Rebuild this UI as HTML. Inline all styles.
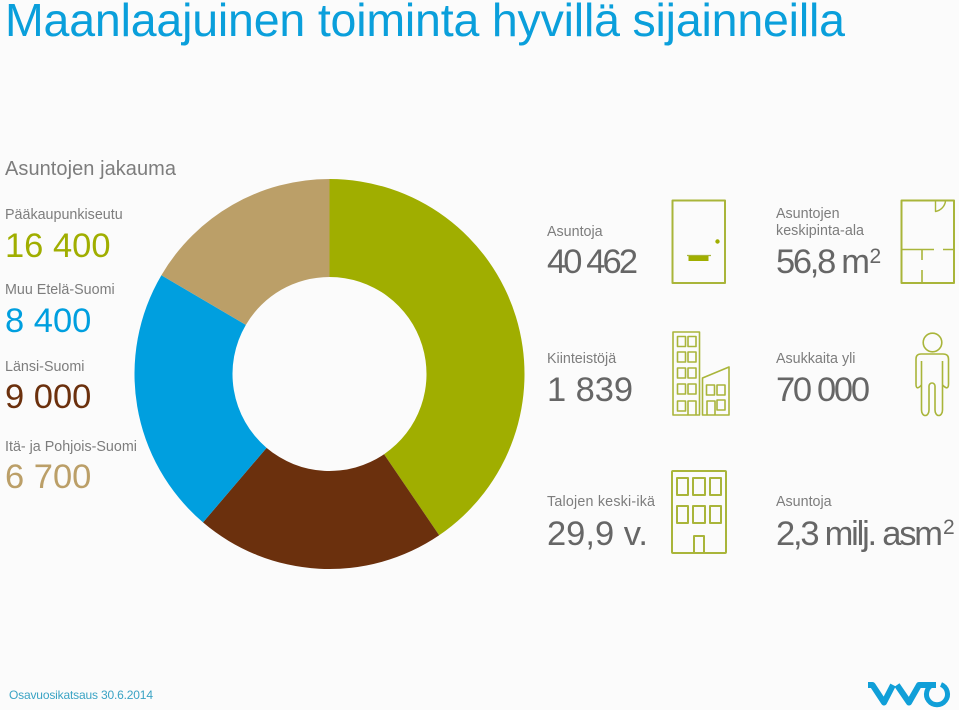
<!DOCTYPE html>
<html lang="fi">
<head>
<meta charset="utf-8">
<title>Maanlaajuinen toiminta hyvillä sijainneilla</title>
<style>
html,body{margin:0;padding:0;background:#fbfbfb;}
svg{display:block;font-family:"Liberation Sans",sans-serif;}
.lab{fill:#7d7d7d;font-size:14.3px;}
.big{fill:#666;font-size:34.5px;}
.ic{fill:none;stroke:#a9b53a;stroke-width:2;stroke-linejoin:round;}
.ic2{fill:none;stroke:#a9b53a;stroke-width:1.6;stroke-linejoin:round;}
</style>
</head>
<body>
<svg id="chart" width="959" height="710" viewBox="0 0 959 710" xmlns="http://www.w3.org/2000/svg">
<rect width="959" height="710" fill="#fbfbfb"/>
<text x="5" y="36" font-size="46.5" fill="#0a9fdb" textLength="840" lengthAdjust="spacing">Maanlaajuinen toiminta hyvillä sijainneilla</text>
<text x="5" y="175" font-size="20" fill="#7d7d7d" textLength="171" lengthAdjust="spacing">Asuntojen jakauma</text>

<g id="donut"></g>
<g id="legend"></g>

<g>
<text class="lab" x="547" y="236">Asuntoja</text>
<text class="big" x="547" y="273" textLength="91" lengthAdjust="spacing">40 462</text>
</g>
<g>
<text class="lab" x="547" y="363">Kiinteistöjä</text>
<text class="big" x="547" y="401" textLength="86" lengthAdjust="spacing">1 839</text>
</g>
<g>
<text class="lab" x="547" y="506" textLength="108" lengthAdjust="spacing">Talojen keski-ikä</text>
<text class="big" x="547" y="545" textLength="101" lengthAdjust="spacing">29,9 v.</text>
</g>
<g>
<text class="lab" x="776" y="218">Asuntojen</text>
<text class="lab" x="776" y="235" textLength="88" lengthAdjust="spacing">keskipinta-ala</text>
<text class="big" x="776" y="273" textLength="94" lengthAdjust="spacing">56,8 m</text>
<text class="big" x="869.5" y="263" style="font-size:21px">2</text>
</g>
<g>
<text class="lab" x="776" y="363">Asukkaita yli</text>
<text class="big" x="776" y="401" textLength="94" lengthAdjust="spacing">70 000</text>
</g>
<g>
<text class="lab" x="776" y="506">Asuntoja</text>
<text class="big" x="776" y="545" textLength="167" lengthAdjust="spacing">2,3 milj. asm</text>
<text class="big" x="943" y="534" style="font-size:21px">2</text>
</g>

<g class="ic">
<rect x="672.5" y="200.5" width="52.5" height="82.5"/>
<circle cx="717.5" cy="241.5" r="1.2" fill="#a0ae00" stroke="#a0ae00"/>
<path d="M687 255.5H711" stroke-width="1.2"/>
<rect x="688.5" y="256" width="20" height="5" fill="#a0ae00" stroke="none"/>
</g>
<g class="ic">
<rect x="901.5" y="200.5" width="52.5" height="82.5"/>
<path d="M935.5 201V211.5C941 210.5 945 206 945.5 201" stroke-width="1.4"/>
<path d="M901.5 249.5H934M943 249.5H954M922 249.5V260M922 270V283" stroke-width="1.6"/>
</g>
<g class="ic2">
<rect x="673" y="332" width="26.5" height="83"/>
<rect x="677.5" y="336.5" width="8" height="10"/><rect x="688" y="336.5" width="8" height="10"/>
<rect x="677.5" y="352" width="8" height="10"/><rect x="688" y="352" width="8" height="10"/>
<rect x="677.5" y="368" width="8" height="10"/><rect x="688" y="368" width="8" height="10"/>
<rect x="677.5" y="384" width="8" height="10"/><rect x="688" y="384" width="8" height="10"/>
<rect x="677.5" y="401" width="8" height="10"/>
<path d="M688 415V401H696V415"/>
<path d="M702.5 415V378L729 367V415Z"/>
<rect x="706.5" y="385" width="8" height="10"/><rect x="717" y="385" width="8" height="10"/>
<path d="M707 415V401H715V415"/>
<rect x="717" y="400" width="8" height="10"/>
</g>
<g class="ic2">
<circle cx="932.5" cy="342.5" r="9.3"/>
<path d="M942.5 361V410A3.75 5.5 0 0 1 935 410V386A3 3 0 0 0 929 386V410A3.75 5.5 0 0 1 921.5 410V361"/>
<path d="M921.5 385Q916 391 916 384V359Q916 354 921 354H943Q948.5 354 948.5 359V384Q948.5 391 942.5 385"/>
</g>
<g class="ic">
<rect x="672" y="471" width="54" height="82" rx="1"/>
<rect x="677" y="478" width="11" height="17"/><rect x="693" y="478" width="12" height="17"/><rect x="710" y="478" width="11" height="17"/>
<rect x="677" y="506" width="11" height="17"/><rect x="693" y="506" width="12" height="17"/><rect x="710" y="506" width="11" height="17"/>
<path d="M694 553V536H704V553"/>
</g>

<text x="9" y="699" font-size="12" fill="#3aa3c4" textLength="144" lengthAdjust="spacing">Osavuosikatsaus 30.6.2014</text>

<g fill="none" stroke="#109fd8" stroke-width="6" stroke-linejoin="round">
<path d="M868 685H872.5L884 702.5L893 685"/>
<path d="M897 685L909 702.5L919 685H936"/>
<path d="M941 684.5A10.5 10.5 0 1 1 933 684.5" stroke-width="5"/>
</g>
</svg>
<script>
const categories = ['Pääkaupunkiseutu', 'Muu Etelä-Suomi', 'Länsi-Suomi', 'Itä- ja Pohjois-Suomi'];
const seriesValues = [16400, 8400, 9000, 6700];
const valueLabels = ['16 400', '8 400', '9 000', '6 700'];
const sliceColors = ['#a0ae00', '#6b300d', '#009fdf', '#bb9f68'];
const legendColors = ['#a0ae00', '#009fdf', '#6b300d', '#bb9f68'];

const NS = 'http://www.w3.org/2000/svg';
const cx = 329.5, cy = 374, rOuter = 195, rInner = 97;
const labelY = [219, 294, 371, 451];
const valueY = [257, 332, 408, 488];
const total = seriesValues.reduce(function (a, b) { return a + b; }, 0);
function angleScale(v) { return v / total * Math.PI * 2; }
function pt(r, a) { return [cx + r * Math.sin(a), cy - r * Math.cos(a)]; }
const donut = document.getElementById('donut');
const legend = document.getElementById('legend');
let acc = 0;
seriesValues.forEach(function (v, i) {
  const a0 = angleScale(acc), a1 = angleScale(acc + v);
  acc += v;
  const large = a1 - a0 > Math.PI ? 1 : 0;
  const p0 = pt(rOuter, a0), p1 = pt(rOuter, a1), p2 = pt(rInner, a1), p3 = pt(rInner, a0);
  const path = document.createElementNS(NS, 'path');
  path.setAttribute('d', 'M' + p0[0] + ' ' + p0[1] + 'A' + rOuter + ' ' + rOuter + ' 0 ' + large + ' 1 ' + p1[0] + ' ' + p1[1] +
    'L' + p2[0] + ' ' + p2[1] + 'A' + rInner + ' ' + rInner + ' 0 ' + large + ' 0 ' + p3[0] + ' ' + p3[1] + 'Z');
  path.setAttribute('fill', sliceColors[i]);
  
  
  donut.appendChild(path);

  const lab = document.createElementNS(NS, 'text');
  lab.setAttribute('x', 5);
  lab.setAttribute('y', labelY[i]);
  lab.setAttribute('class', 'lab');
  
  
  lab.textContent = categories[i];
  legend.appendChild(lab);

  const val = document.createElementNS(NS, 'text');
  val.setAttribute('x', 5);
  val.setAttribute('y', valueY[i]);
  val.setAttribute('font-size', '34.5');
  val.setAttribute('fill', legendColors[i]);
  
  
  val.textContent = valueLabels[i];
  legend.appendChild(val);
});
</script>
</body>
</html>
